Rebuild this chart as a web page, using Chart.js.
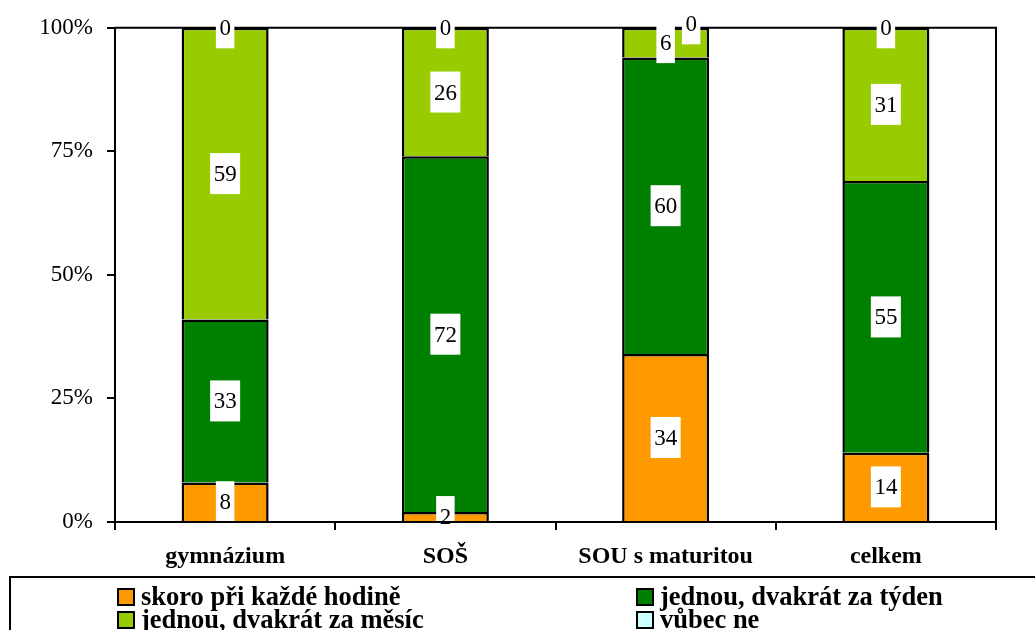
<!DOCTYPE html>
<html lang="cs">
<head>
<meta charset="utf-8">
<title>Četnost – typ školy</title>
<script src="https://cdn.jsdelivr.net/npm/chart.js@4/dist/chart.umd.min.js"></script>
<style>
  html, body { margin: 0; padding: 0; background: #ffffff; }
  #wrap { width: 1035px; height: 630px; position: relative; }
</style>
</head>
<body>
<div id="wrap"><canvas id="chart" width="1035" height="630"></canvas></div>
<script>
// Categories (school types)
const categories = ['gymnázium', 'SOŠ', 'SOU s maturitou', 'celkem'];

// Series names
const seriesNames = [
  'skoro při každé hodině',
  'jednou, dvakrát za týden',
  'jednou, dvakrát za měsíc',
  'vůbec ne'
];

// Series values (percent of respondents)
const skoroPriKazdeHodine = [8, 2, 34, 14];
const jednouDvakratZaTyden = [33, 72, 60, 55];
const jednouDvakratZaMesic = [59, 26, 6, 31];
const vubecNe = [0, 0, 0, 0];

// Y-axis tick values
const yTicks = [0, 25, 50, 75, 100];

const seriesColors = ['#FF9900', '#008000', '#99CC00', '#CCFFFF'];
const seriesValues = [skoroPriKazdeHodine, jednouDvakratZaTyden, jednouDvakratZaMesic, vubecNe];

const SERIF = '"Liberation Serif", "Times New Roman", serif';

// Plot frame: top and right edges of the chart area
const framePlugin = {
  id: 'frame',
  beforeDatasetsDraw(chart) {
    const { ctx, chartArea: a } = chart;
    ctx.save();
    ctx.strokeStyle = '#000';
    ctx.lineWidth = 2;
    ctx.beginPath();
    ctx.moveTo(a.left, a.top);
    ctx.lineTo(a.right, a.top);
    ctx.lineTo(a.right, a.bottom + 8);
    ctx.stroke();
    ctx.restore();
  }
};

// Value labels in white boxes, centred on each segment
const valueLabelPlugin = {
  id: 'valueLabels',
  afterDatasetsDraw(chart) {
    const { ctx, chartArea: a } = chart;
    ctx.save();
    ctx.font = '23px ' + SERIF;
    ctx.textAlign = 'center';
    ctx.textBaseline = 'middle';
    const placed = {};
    chart.data.datasets.forEach((ds, i) => {
      const meta = chart.getDatasetMeta(i);
      meta.data.forEach((el, j) => {
        const v = ds.data[j];
        const txt = String(v);
        const w = ctx.measureText(txt).width + 7;
        const h = 41;
        let cx = el.x;
        let cy = (el.y + el.base) / 2;
        const list = placed[j] || (placed[j] = []);
        for (const b of list) {
          const overlap = Math.abs(cy - b.cy) < (h + b.h) / 2 && Math.abs(cx - b.cx) < (w + b.w) / 2;
          if (overlap) {
            cx = b.cx + b.w / 2 + 7 + w / 2;
            cy -= 4;
          }
        }
        list.push({ cx, cy, w, h });
        // white box, kept inside the plot area
        ctx.save();
        ctx.beginPath();
        ctx.rect(a.left, a.top - 2, a.right - a.left, a.bottom - a.top + 1);
        ctx.clip();
        ctx.fillStyle = '#ffffff';
        ctx.fillRect(cx - w / 2, cy - h / 2, w, h);
        ctx.restore();
        ctx.fillStyle = '#000000';
        ctx.fillText(txt, cx, cy + 1.5);
      });
    });
    ctx.restore();
  }
};

// Boxed legend in two columns below the axis
const boxLegendPlugin = {
  id: 'boxLegend',
  afterDraw(chart) {
    const { ctx } = chart;
    ctx.save();
    ctx.strokeStyle = '#000';
    ctx.lineWidth = 2;
    ctx.strokeRect(10, 577, 1100, 100);
    const colX = [117, 636];
    const rowY = [597, 620];
    ctx.font = 'bold 26.5px ' + SERIF;
    ctx.textAlign = 'left';
    ctx.textBaseline = 'middle';
    chart.data.datasets.forEach((ds, i) => {
      const x = colX[i % 2];
      const y = rowY[Math.floor(i / 2)];
      ctx.fillStyle = ds.backgroundColor;
      ctx.fillRect(x, y - 9, 18, 18);
      ctx.lineWidth = 2;
      ctx.strokeStyle = '#000';
      ctx.strokeRect(x + 1, y - 8, 16, 16);
      ctx.fillStyle = '#000';
      ctx.fillText(ds.label, x + 24, y + 1);
    });
    ctx.restore();
  }
};

const datasets = seriesNames.map((name, i) => ({
  label: name,
  data: seriesValues[i],
  backgroundColor: seriesColors[i],
  borderColor: '#000000',
  borderWidth: 2.5,
  categoryPercentage: 1.0,
  barPercentage: 0.395
}));

new Chart(document.getElementById('chart'), {
  type: 'bar',
  data: { labels: categories, datasets },
  options: {
    responsive: false,
    animation: false,
    devicePixelRatio: 1,
    layout: { padding: { top: 26, right: 39, bottom: 53, left: 0 } },
    plugins: {
      legend: { display: false },
      tooltip: { enabled: false }
    },
    scales: {
      x: {
        stacked: true,
        afterFit(scale) { scale.height = 55; },
        grid: {
          offset: true,
          drawOnChartArea: false,
          drawTicks: true,
          tickLength: 8,
          color: '#000',
          lineWidth: 2
        },
        border: { display: true, color: '#000', width: 2 },
        ticks: {
          color: '#000',
          padding: 12,
          maxRotation: 0,
          font: { family: SERIF, size: 24, weight: 'bold' }
        }
      },
      y: {
        stacked: true,
        min: 0,
        max: 100,
        afterFit(scale) { scale.width = 115; },
        afterBuildTicks(scale) { scale.ticks = yTicks.map(v => ({ value: v })); },
        grid: {
          drawOnChartArea: false,
          drawTicks: true,
          tickLength: 8,
          color: '#000',
          lineWidth: 2
        },
        border: { display: true, color: '#000', width: 2 },
        ticks: {
          color: '#000',
          padding: 14,
          font: { family: SERIF, size: 23 },
          callback: v => v + '%'
        }
      }
    }
  },
  plugins: [framePlugin, valueLabelPlugin, boxLegendPlugin]
});
</script>
</body>
</html>
